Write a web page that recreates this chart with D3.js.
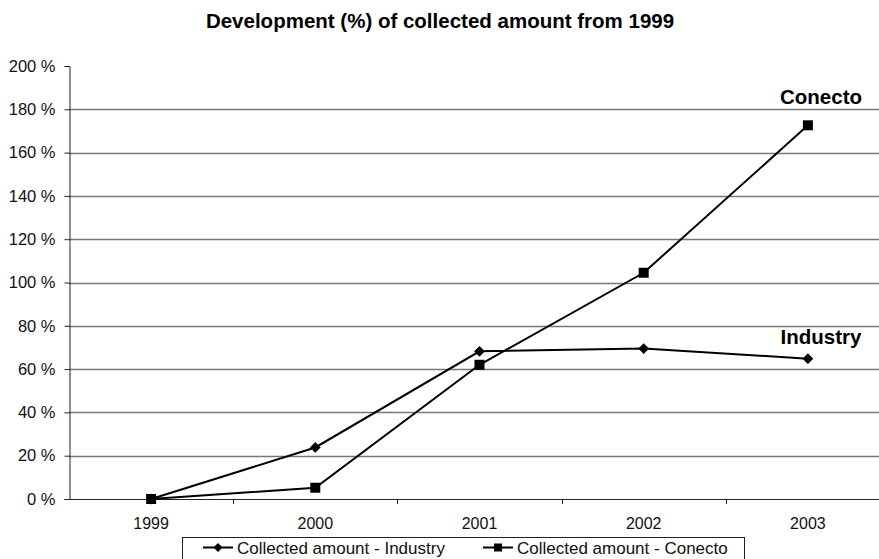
<!DOCTYPE html>
<html>
<head>
<meta charset="utf-8">
<script src="https://cdn.jsdelivr.net/npm/d3@7"></script>
<style>
  body { margin: 0; background: #fff; }
  svg { display: block; font-family: "Liberation Sans", Arial, sans-serif; }
</style>
</head>
<body>
<svg id="chart" width="879" height="559"></svg>
<script>
// data
var years = ["1999", "2000", "2001", "2002", "2003"];
var industry = [0, 23.8, 68.2, 69.5, 64.8];
var conecto = [0, 5.2, 62, 104.5, 172.6];
var yTicks = [0, 20, 40, 60, 80, 100, 120, 140, 160, 180, 200];

var svg = d3.select("#chart"),
    plotLeft = 69, plotRight = 890, plotTop = 66, plotBottom = 499;

var x = d3.scaleBand().domain(years).range([plotLeft, plotRight]);
var y = d3.scaleLinear().domain([0, 200]).range([plotBottom, plotTop]);

function cx(i) { return x(years[i]) + x.bandwidth() / 2; }

// title
svg.append("text")
    .attr("x", 440).attr("y", 28)
    .attr("text-anchor", "middle")
    .style("font-size", "20.5px").style("font-weight", "bold")
    .text("Development (%) of collected amount from 1999");

// gridlines
svg.append("g").selectAll("line")
    .data(yTicks.filter(function (d) { return d > 0 && d < 200; }))
    .enter().append("line")
    .attr("x1", plotLeft).attr("x2", 879)
    .attr("y1", function (d) { return Math.round(y(d)) + 0.5; })
    .attr("y2", function (d) { return Math.round(y(d)) + 0.5; })
    .attr("stroke", "#777").attr("stroke-width", 1.3);

// y axis
var yAxis = svg.append("g")
    .attr("transform", "translate(" + (plotLeft + 0.5) + ",0)")
    .call(d3.axisLeft(y).tickValues(yTicks).tickSize(5).tickPadding(9)
        .tickFormat(function (d) { return d + " %"; }));
yAxis.select(".domain").attr("stroke", "#222");
yAxis.selectAll(".tick line").attr("stroke", "#222");
yAxis.selectAll("text").style("font-size", "16.5px").attr("fill", "#111")
    .attr("font-family", "Liberation Sans, Arial, sans-serif");

// x axis, ticks between categories
svg.append("line")
    .attr("x1", plotLeft).attr("x2", 879)
    .attr("y1", plotBottom + 0.5).attr("y2", plotBottom + 0.5)
    .attr("stroke", "#222");
svg.append("g").selectAll("line")
    .data(years.slice(1))
    .enter().append("line")
    .attr("x1", function (d) { return Math.round(x(d)) + 0.5; })
    .attr("x2", function (d) { return Math.round(x(d)) + 0.5; })
    .attr("y1", plotBottom).attr("y2", plotBottom + 5)
    .attr("stroke", "#222");
svg.append("g").selectAll("text")
    .data(years)
    .enter().append("text")
    .attr("x", function (d, i) { return cx(i); })
    .attr("y", 529)
    .attr("text-anchor", "middle")
    .style("font-size", "16px").attr("fill", "#111")
    .text(function (d) { return d; });

var line = d3.line()
    .x(function (d, i) { return cx(i); })
    .y(function (d) { return y(d); });

var squareSym = d3.symbol().type(d3.symbolSquare).size(100);
var diamondSym = d3.symbol().type(d3.symbolSquare).size(58);

function drawSeries(vals, shape) {
    svg.append("path").datum(vals)
        .attr("d", line)
        .attr("fill", "none").attr("stroke", "#000").attr("stroke-width", 2);
    svg.append("g").selectAll("path")
        .data(vals)
        .enter().append("path")
        .attr("transform", function (d, i) {
            return "translate(" + cx(i) + "," + y(d) + ")" + (shape === "diamond" ? " rotate(45)" : "");
        })
        .attr("d", shape === "square" ? squareSym : diamondSym)
        .attr("fill", "#000");
}
drawSeries(industry, "diamond");
drawSeries(conecto, "square");

// end labels
svg.append("text")
    .attr("x", 821).attr("y", 104)
    .attr("text-anchor", "middle")
    .style("font-size", "20.5px").style("font-weight", "bold")
    .text("Conecto");
svg.append("text")
    .attr("x", 821).attr("y", 344)
    .attr("text-anchor", "middle")
    .style("font-size", "20.5px").style("font-weight", "bold")
    .text("Industry");

// legend
var legend = svg.append("g");
legend.append("rect")
    .attr("x", 182.5).attr("y", 537.5).attr("width", 562).attr("height", 30)
    .attr("fill", "#fff").attr("stroke", "#222");
var items = [
    { name: "Collected amount - Industry", shape: "diamond", x: 203 },
    { name: "Collected amount - Conecto", shape: "square", x: 483 }
];
items.forEach(function (it) {
    legend.append("line")
        .attr("x1", it.x).attr("x2", it.x + 30)
        .attr("y1", 547.5).attr("y2", 547.5)
        .attr("stroke", "#000").attr("stroke-width", 2);
    legend.append("path")
        .attr("transform", "translate(" + (it.x + 15) + ",547.5)" + (it.shape === "diamond" ? " rotate(45)" : ""))
        .attr("d", d3.symbol().type(d3.symbolSquare).size(it.shape === "square" ? 64 : 40))
        .attr("fill", "#000");
    legend.append("text")
        .attr("x", it.x + 34).attr("y", 554)
        .style("font-size", "17px").attr("fill", "#111")
        .text(it.name);
});
</script>
</body>
</html>
